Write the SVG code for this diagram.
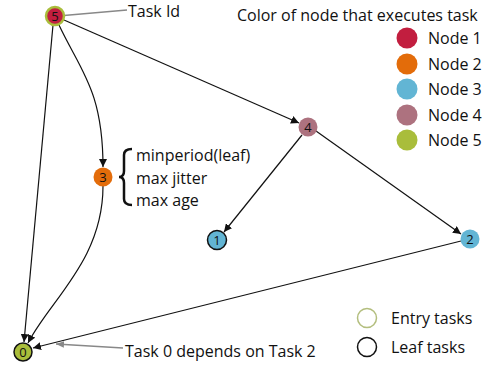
<svg xmlns="http://www.w3.org/2000/svg" width="489" height="368" viewBox="0 0 489 368">
<style>
text{font-family:"Open Sans","Liberation Sans",sans-serif;font-size:16px;fill:#111}
.nl{font-size:13px;text-anchor:middle}
.e{fill:none;stroke:#111;stroke-width:1.2}
.a{fill:none;stroke:#888;stroke-width:1.3}
.n1{fill:#c21e3f}.n2{fill:#e36c0a}.n3{fill:#62b5d4}.n4{fill:#ad727f}.n5{fill:#a9bd3b}
</style>
<defs>
<marker id="ah" viewBox="0 0 10 10" refX="10" refY="5" markerWidth="8" markerHeight="8" markerUnits="userSpaceOnUse" orient="auto"><path d="M0,0 L10,5 L0,10 z" fill="#111"/></marker>
<marker id="ag" viewBox="0 0 10 10" refX="10" refY="5" markerWidth="8" markerHeight="8" markerUnits="userSpaceOnUse" orient="auto"><path d="M0,1 L10,5 L0,9 z" fill="#888"/></marker>
</defs>
<g id="connectors">
<path class="e" d="M53,25 L24,342" marker-end="url(#ah)"/>
<path class="e" d="M59,25 C80,70 103,90 103,167" marker-end="url(#ah)"/>
<path class="e" d="M64,20 L299,123" marker-end="url(#ah)"/>
<path class="e" d="M103,186 C103,260 50,300 28,343" marker-end="url(#ah)"/>
<path class="e" d="M302,135 L224,232" marker-end="url(#ah)"/>
<path class="e" d="M316,131 L461,234" marker-end="url(#ah)"/>
<path class="e" d="M461,241 L33,348" marker-end="url(#ah)"/>
<path class="a" d="M58,16 L127,10"/>
<path class="a" d="M123,348 L56,344" marker-end="url(#ag)"/>
</g>
<g id="node5"><circle cx="55" cy="16" r="9" class="n1" stroke="#a9bd3b" stroke-width="2.5"/><text class="nl" x="55" y="20.5">5</text></g>
<g id="node3"><circle cx="103" cy="177" r="9.5" class="n2"/><text class="nl" x="103" y="181.5">3</text></g>
<g id="node4"><circle cx="308" cy="127" r="9.5" class="n4"/><text class="nl" x="308" y="131.5">4</text></g>
<g id="node1"><circle cx="217" cy="240" r="9.5" class="n3" stroke="#111" stroke-width="1.5"/><text class="nl" x="217" y="244.5">1</text></g>
<g id="node2"><circle cx="470" cy="239" r="9.5" class="n3"/><text class="nl" x="470" y="243.5">2</text></g>
<g id="node0"><circle cx="23" cy="352" r="9" class="n5" stroke="#111" stroke-width="1.5"/><text class="nl" x="23" y="356.5">0</text></g>
<g id="labels">
<text x="128" y="17">Task Id</text>
<text x="125" y="357">Task 0 depends on Task 2</text>
<path d="M132,149 Q124,149 124,155 L124,171 Q124,177 119,177 Q124,177 124,183 L124,199 Q124,205 132,205" fill="none" stroke="#111" stroke-width="2.5"/>
<text x="136" y="161">minperiod(leaf)</text>
<text x="136" y="184">max jitter</text>
<text x="136" y="206">max age</text>
</g>
<g id="legend">
<text x="237" y="21">Color of node that executes task</text>
<circle cx="407" cy="38" r="10.5" class="n1"/><text x="428" y="44">Node 1</text>
<circle cx="407" cy="64" r="10.5" class="n2"/><text x="428" y="70">Node 2</text>
<circle cx="407" cy="89" r="10.5" class="n3"/><text x="428" y="95">Node 3</text>
<circle cx="407" cy="115" r="10.5" class="n4"/><text x="428" y="121">Node 4</text>
<circle cx="407" cy="140" r="10.5" class="n5"/><text x="428" y="146">Node 5</text>
<circle cx="367" cy="318" r="9.5" fill="none" stroke="#b3be7e" stroke-width="1.5"/><text x="391" y="324">Entry tasks</text>
<circle cx="367" cy="347" r="9.5" fill="none" stroke="#111" stroke-width="1.5"/><text x="391" y="353">Leaf tasks</text>
</g>
</svg>
